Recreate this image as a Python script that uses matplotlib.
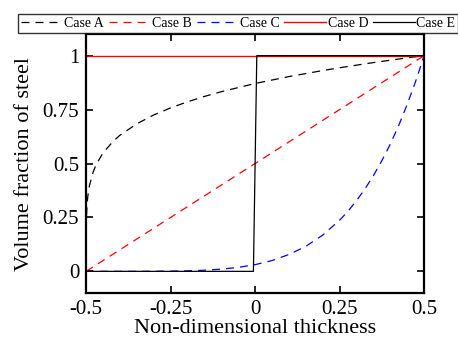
import matplotlib
matplotlib.use("Agg")
import matplotlib.pyplot as plt

# Values
thick_A = [-0.5, -0.499, -0.497, -0.495, -0.49, -0.48, -0.47, -0.45, -0.42, -0.4,
           -0.35, -0.3, -0.25, -0.2, -0.15, -0.1, -0.05, 0.0, 0.05, 0.1, 0.15,
           0.2, 0.25, 0.3, 0.35, 0.4, 0.45, 0.5]
frac_A = [0.0, 0.251, 0.313, 0.347, 0.398, 0.457, 0.496, 0.549, 0.603, 0.631,
          0.684, 0.725, 0.758, 0.786, 0.811, 0.833, 0.852, 0.871, 0.887, 0.903, 0.917,
          0.931, 0.944, 0.956, 0.968, 0.979, 0.990, 1.0]

thick_B = [-0.5, 0.5]
frac_B = [0.0, 1.0]

thick_C = [-0.5, -0.4, -0.3, -0.25, -0.2, -0.15, -0.1, -0.05, 0.0, 0.05, 0.1, 0.15,
           0.2, 0.25, 0.275, 0.3, 0.325, 0.35, 0.375, 0.4, 0.425, 0.45, 0.475, 0.5]
frac_C = [0.0, 0.0, 0.0003, 0.001, 0.0024, 0.0053, 0.0102, 0.0185, 0.031, 0.050, 0.078, 0.116,
          0.168, 0.237, 0.279, 0.328, 0.382, 0.444, 0.513, 0.590, 0.677, 0.774, 0.881, 1.0]

thick_D = [-0.5, 0.5]
frac_D = [1.0, 1.0]

thick_E = [-0.5, -0.005, 0.005, 0.5]
frac_E = [0.0, 0.0, 1.0, 1.0]

plt.rcParams["font.family"] = "Liberation Serif"
plt.rcParams["axes.unicode_minus"] = False

fig = plt.figure(figsize=(4.58, 3.41), dpi=100)
ax = fig.add_axes([0.188, 0.141, 0.738, 0.759])

dash = (6.4, 4.8)
ax.plot(thick_A, frac_A, color="black", lw=0.9, dashes=dash, label="Case A")
ax.plot(thick_B, frac_B, color="red", lw=0.9, dashes=dash, label="Case B")
ax.plot(thick_C, frac_C, color="blue", lw=0.9, dashes=dash, label="Case C")
ax.plot(thick_D, frac_D, color="red", lw=1.0, label="Case D")
ax.plot(thick_E, frac_E, color="black", lw=0.9, label="Case E")

ax.set_xlim(-0.5, 0.5)
ax.set_ylim(-0.1, 1.1)
ax.set_xticks([-0.5, -0.25, 0, 0.25, 0.5])
ax.set_xticklabels(["-0.5", "-0.25", "0", "0.25", "0.5"])
ax.set_yticks([0, 0.25, 0.5, 0.75, 1])
ax.set_yticklabels(["0", "0.25", "0.5", "0.75", "1"])
ax.tick_params(direction="in", top=True, right=True, length=5, width=1.2, labelsize=15, pad=5)
for sp in ax.spines.values():
    sp.set_linewidth(1.6)

ax.set_xlabel("Non-dimensional thickness", fontsize=16, labelpad=0)
ax.set_ylabel("Volume fraction of steel", fontsize=16, labelpad=6)

leg = fig.legend(loc="upper left", bbox_to_anchor=(0.039, 0.909, 0.961, 0.05), mode="expand",
                 ncol=5, fontsize=10, frameon=True, fancybox=False, edgecolor="black",
                 handlelength=3.0, handletextpad=0.1, columnspacing=0.4, borderpad=0.2,
                 borderaxespad=0)
leg.get_frame().set_linewidth(1.0)

fig.savefig("out.png", dpi=100)
